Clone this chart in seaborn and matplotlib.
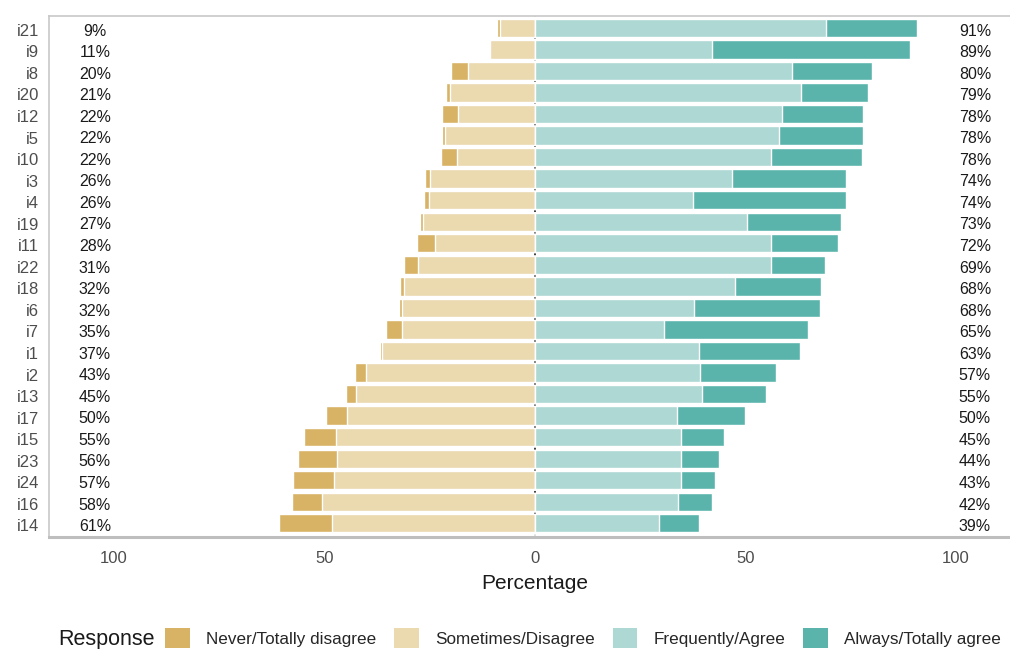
import matplotlib
matplotlib.use("Agg")
import matplotlib.pyplot as plt
import matplotlib.transforms as mtransforms
from matplotlib.patches import Patch
import pandas as pd
import seaborn as sns

# items, top to bottom
items = ["i21", "i9", "i8", "i20", "i12", "i5", "i10", "i3", "i4", "i19", "i11", "i22",
         "i18", "i6", "i7", "i1", "i2", "i13", "i17", "i15", "i23", "i24", "i16", "i14"]

never = [0.6, 0.3, 4.0, 0.8, 3.8, 0.7, 3.8, 1.1, 1.1, 0.8, 4.1, 3.4,
         1.0, 0.8, 3.8, 0.7, 2.7, 2.4, 5.0, 7.6, 9.2, 9.6, 7.2, 12.6]
sometimes = [8.4, 10.7, 16.0, 20.2, 18.2, 21.3, 18.5, 24.9, 25.2, 26.6, 23.8, 27.7,
             31.0, 31.5, 31.5, 36.2, 40.0, 42.4, 44.6, 47.2, 47.0, 47.8, 50.6, 48.2]
frequently = [69.2, 42.0, 61.0, 63.3, 58.6, 57.9, 56.1, 46.9, 37.6, 50.3, 56.1, 56.1,
              47.6, 37.8, 30.7, 39.0, 39.3, 39.7, 33.8, 34.8, 34.8, 34.8, 34.1, 29.4]
always = [21.6, 47.0, 19.0, 15.7, 19.4, 20.1, 21.6, 27.1, 36.2, 22.3, 15.9, 12.8,
          20.4, 29.9, 34.1, 24.0, 17.9, 15.3, 16.2, 10.2, 8.9, 7.9, 7.9, 9.6]

low_labels = ["9%", "11%", "20%", "21%", "22%", "22%", "22%", "26%", "26%", "27%", "28%", "31%",
              "32%", "32%", "35%", "37%", "43%", "45%", "50%", "55%", "56%", "57%", "58%", "61%"]
high_labels = ["91%", "89%", "80%", "79%", "78%", "78%", "78%", "74%", "74%", "73%", "72%", "69%",
               "68%", "68%", "65%", "63%", "57%", "55%", "50%", "45%", "44%", "43%", "42%", "39%"]

responses = ["Never/Totally disagree", "Sometimes/Disagree", "Frequently/Agree", "Always/Totally agree"]
colors = ["#D8B365", "#EBD9B0", "#ADD8D4", "#5AB4AC"]

df = pd.DataFrame({"item": items, "never": never, "sometimes": sometimes,
                   "frequently": frequently, "always": always})
df["left_outer"] = -(df["never"] + df["sometimes"])
df["left_inner"] = -df["sometimes"]
df["right_outer"] = df["frequently"] + df["always"]
df["right_inner"] = df["frequently"]

sns.set_theme(style="white")
plt.rcParams["font.family"] = ["Liberation Sans", "DejaVu Sans"]

fig = plt.figure(figsize=(10.10, 6.49), dpi=100)
ax = fig.add_axes([49 / 1010, 1 - 536.7 / 649, 971.8 / 1010, (536.7 - 16) / 649])

ax.axvline(0, color="#333333", lw=1.3, ls=(0, (1.5, 2.5)), zorder=0)

w = 0.85
sns.barplot(data=df, x="left_outer", y="item", orient="h", color=colors[0], width=w,
            saturation=1, ax=ax, zorder=2)
sns.barplot(data=df, x="left_inner", y="item", orient="h", color=colors[1], width=w,
            saturation=1, ax=ax, zorder=2)
sns.barplot(data=df, x="right_outer", y="item", orient="h", color=colors[3], width=w,
            saturation=1, ax=ax, zorder=2)
sns.barplot(data=df, x="right_inner", y="item", orient="h", color=colors[2], width=w,
            saturation=1, ax=ax, zorder=2)

for i in range(len(items)):
    ax.text(-104.5, i + 0.08, low_labels[i], ha="center", va="center_baseline", fontsize=11.5, color="#1a1a1a")
    ax.text(104.5, i + 0.08, high_labels[i], ha="center", va="center_baseline", fontsize=11.5, color="#1a1a1a")

ax.set_xlim(-115.4, 115.4)
ax.set_ylim(23.62, -0.55)
ax.set_xticks([-100, -50, 0, 50, 100])
ax.set_xticklabels(["100", "50", "0", "50", "100"])
ax.set_xticks(range(-100, 101, 25), minor=True)
ax.set_xlabel("Percentage", fontsize=15, color="#1a1a1a", labelpad=6)
ax.set_ylabel("")
ax.tick_params(axis="x", which="both", labelsize=12, colors="#4D4D4D", pad=8,
               bottom=True, top=True, direction="inout", length=4, width=1.2, color="white")
ax.tick_params(axis="y", labelsize=12, colors="#4D4D4D", length=3, width=0.8, pad=4)
shift = mtransforms.ScaledTranslation(0, -2 / 100, fig.dpi_scale_trans)
for t in ax.get_yticklabels():
    t.set_color("#4D4D4D")
    t.set_transform(t.get_transform() + shift)
for t in ax.get_xticklabels():
    t.set_color("#4D4D4D")

for s in ["left", "top", "right"]:
    ax.spines[s].set_color("#C8C8C8")
    ax.spines[s].set_linewidth(1.2)
ax.spines["bottom"].set_color("#BEBEBE")
ax.spines["bottom"].set_linewidth(2.2)

handles = [Patch(facecolor=c, edgecolor="none") for c in colors]
fig.text(58 / 1010, 1 - 640 / 649, "Response", fontsize=15.5, va="center", ha="left", color="#1a1a1a")
fig.legend(handles, responses, loc="center left", bbox_to_anchor=(165 / 1010, 1 - 638 / 649),
           ncol=4, frameon=False, fontsize=12.3, handlelength=1.44, handleheight=1.5,
           handletextpad=0.95, columnspacing=1.05, borderpad=0, borderaxespad=0)

fig.savefig("out.png", dpi=100)
